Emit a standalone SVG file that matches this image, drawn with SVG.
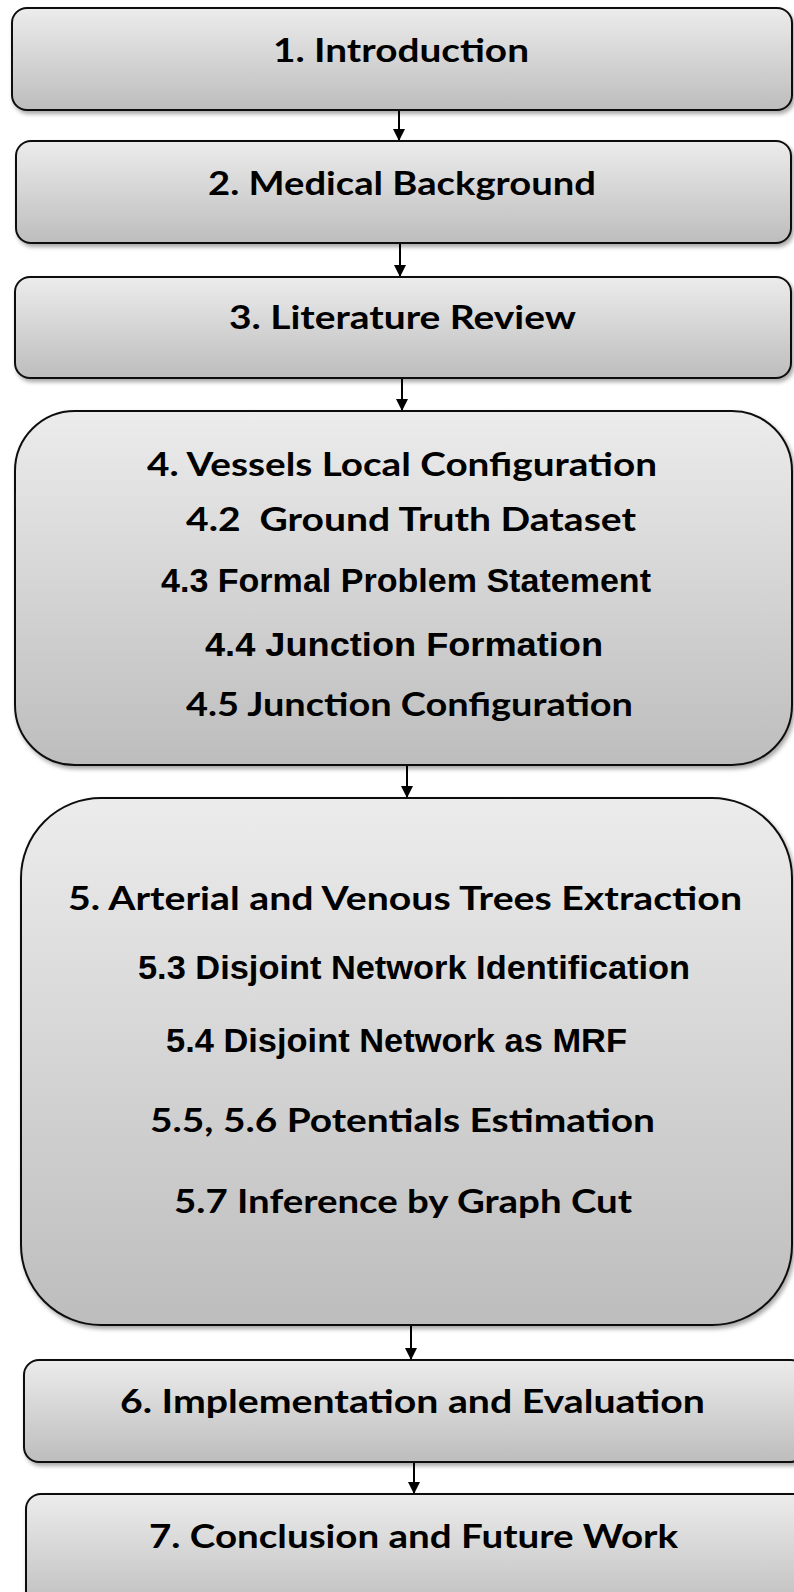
<svg xmlns="http://www.w3.org/2000/svg" width="794" height="1592" viewBox="0 0 794 1592">
<defs>
<linearGradient id="g" x1="0" y1="0" x2="0" y2="1">
<stop offset="0" stop-color="#ececec"/>
<stop offset="1" stop-color="#bdbdbd"/>
</linearGradient>
<filter id="sh" x="-5%" y="-5%" width="110%" height="115%">
<feDropShadow dx="2" dy="3" stdDeviation="2" flood-color="#000" flood-opacity="0.35"/>
</filter>
<marker id="ah" markerWidth="12" markerHeight="12" refX="12" refY="6" orient="auto" markerUnits="userSpaceOnUse">
<path d="M0,0 L12,6 L0,12 Z" fill="#000"/>
</marker>
</defs>
<style>
.box{fill:url(#g);stroke:#111;stroke-width:2;filter:url(#sh)}
.h{font-family:Lato,"Open Sans",sans-serif;font-weight:bold;font-size:32px;fill:#000}
.n{font-family:"Liberation Sans",Arial,sans-serif;font-weight:bold;font-size:33px;fill:#000}
.c{fill:none;stroke:#000;stroke-width:2;marker-end:url(#ah)}
</style>
<rect width="794" height="1592" fill="#fff"/>
<g id="connectors">
<line class="c" x1="399" y1="110" x2="399" y2="141"/>
<line class="c" x1="400" y1="243" x2="400" y2="277"/>
<line class="c" x1="402" y1="378" x2="402" y2="411"/>
<line class="c" x1="407" y1="765" x2="407" y2="798"/>
<line class="c" x1="411" y1="1325" x2="411" y2="1360"/>
<line class="c" x1="414" y1="1462" x2="414" y2="1494"/>
</g>
<g id="n1">
<rect class="box" x="12" y="8" width="780" height="102" rx="15"/>
<text class="h" x="273" y="62" textLength="256" lengthAdjust="spacingAndGlyphs">1. Introduction</text>
</g>
<g id="n2">
<rect class="box" x="16" y="141" width="775" height="102" rx="15"/>
<text class="h" x="208" y="195" textLength="388" lengthAdjust="spacingAndGlyphs">2. Medical Background</text>
</g>
<g id="n3">
<rect class="box" x="15" y="277" width="776" height="101" rx="15"/>
<text class="h" x="229" y="329" textLength="347" lengthAdjust="spacingAndGlyphs">3. Literature Review</text>
</g>
<g id="n4">
<rect class="box" x="15" y="411" width="777" height="354" rx="60"/>
<text class="h" x="147" y="476" font-size="34" textLength="510" lengthAdjust="spacingAndGlyphs">4. Vessels Local Configuration</text>
<text class="h" x="186" y="531" font-size="35" textLength="450" lengthAdjust="spacingAndGlyphs" xml:space="preserve">4.2  Ground Truth Dataset</text>
<text class="n" x="161" y="592" textLength="490" lengthAdjust="spacingAndGlyphs">4.3 Formal Problem Statement</text>
<text class="n" x="205" y="656" font-size="34" textLength="398" lengthAdjust="spacingAndGlyphs">4.4 Junction Formation</text>
<text class="h" x="186" y="716" font-size="35" textLength="447" lengthAdjust="spacingAndGlyphs">4.5 Junction Configuration</text>
</g>
<g id="n5">
<rect class="box" x="21" y="798" width="771" height="527" rx="80"/>
<text class="h" x="68" y="910" font-size="33" textLength="674" lengthAdjust="spacingAndGlyphs">5. Arterial and Venous Trees Extraction</text>
<text class="n" x="138" y="979" textLength="552" lengthAdjust="spacingAndGlyphs">5.3 Disjoint Network Identification</text>
<text class="n" x="166" y="1052" textLength="461" lengthAdjust="spacingAndGlyphs">5.4 Disjoint Network as MRF</text>
<text class="h" x="150" y="1132" font-size="34" textLength="505" lengthAdjust="spacingAndGlyphs">5.5, 5.6 Potentials Estimation</text>
<text class="h" x="174" y="1213" font-size="34" textLength="458" lengthAdjust="spacingAndGlyphs">5.7 Inference by Graph Cut</text>
</g>
<g id="n6">
<rect class="box" x="24" y="1360" width="782" height="102" rx="15"/>
<text class="h" x="120" y="1413" textLength="585" lengthAdjust="spacingAndGlyphs">6. Implementation and Evaluation</text>
</g>
<g id="n7">
<rect class="box" x="26" y="1494" width="782" height="120" rx="15"/>
<text class="h" x="149" y="1548" textLength="529" lengthAdjust="spacingAndGlyphs">7. Conclusion and Future Work</text>
</g>
</svg>
